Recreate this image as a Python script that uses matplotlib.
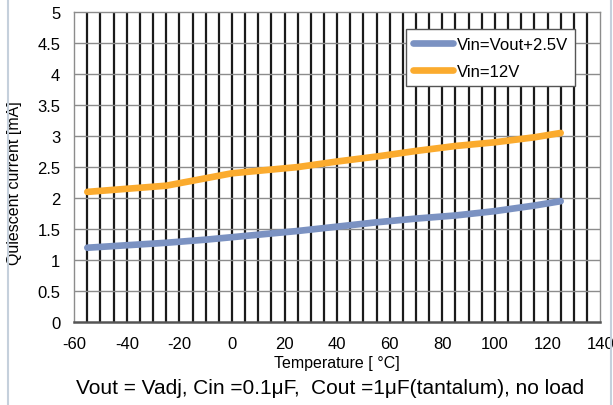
import matplotlib.pyplot as plt
import numpy as np

plt.rcParams['font.family'] = ['Liberation Sans', 'DejaVu Sans']
plt.rcParams['axes.unicode_minus'] = False

temps = [-55, -40, -25, -10, 0, 10, 25, 40, 55, 70, 85, 100, 115, 125]
iq_vout = [1.20, 1.24, 1.28, 1.33, 1.37, 1.41, 1.47, 1.54, 1.61, 1.67, 1.72, 1.79, 1.88, 1.95]
iq_12v = [2.10, 2.15, 2.20, 2.32, 2.40, 2.44, 2.50, 2.59, 2.67, 2.76, 2.84, 2.90, 2.98, 3.05]
labels = ['Vin=Vout+2.5V', 'Vin=12V']

fig = plt.figure(figsize=(6.13, 4.06), dpi=100)
ax = fig.add_axes([0.121, 0.204, 0.858, 0.764])

ax.set_xlim(-60, 140)
ax.set_ylim(0, 5)
ax.set_xticks(np.arange(-60, 141, 20))
ax.set_yticks(np.arange(0, 5.01, 0.5))
ax.set_yticklabels(['0', '0.5', '1', '1.5', '2', '2.5', '3', '3.5', '4', '4.5', '5'])

# dense black vertical grid, grey horizontal
for x in np.arange(-55, 140, 5):
    ax.axvline(x, color='#1a1a1a', lw=1.6, zorder=1)
for y in np.arange(0.5, 5, 0.5):
    ax.axhline(y, color='#8c8c8c', lw=1.0, zorder=1)

ax.plot(temps, iq_vout, color='#7b92c2', lw=4.8, solid_capstyle='round', label=labels[0], zorder=3)
ax.plot(temps, iq_12v, color='#fbab2e', lw=4.8, solid_capstyle='round', label=labels[1], zorder=3)

ax.tick_params(axis='y', which='both', length=0, labelsize=12, pad=10)
ax.tick_params(axis='x', which='both', length=0, labelsize=12, pad=10)
for s in ax.spines.values():
    s.set_color('#8c8c8c')
    s.set_linewidth(1.0)
ax.spines['bottom'].set_color('#555555')
ax.spines['bottom'].set_linewidth(1.8)

ax.set_xlabel('Temperature [ °C]', fontsize=11.5, labelpad=3)
ax.set_ylabel('Quiescent current [mA]', fontsize=11.5)
ax.yaxis.set_label_coords(-0.099, 0.45)

leg = ax.legend(loc='upper right', bbox_to_anchor=(0.953, 0.944), fontsize=12,
                frameon=True, fancybox=False, handlelength=2.4, handletextpad=0.2,
                borderpad=0.45, labelspacing=0.7, borderaxespad=0)
leg.get_frame().set_edgecolor('#555555')
leg.get_frame().set_linewidth(1.0)
leg.get_frame().set_alpha(1)

fig.text(0.538, 0.043, 'Vout = Vadj, Cin =0.1μF,  Cout =1μF(tantalum), no load',
         ha='center', va='center', fontsize=15)

# thin frame lines on the left and right of the figure
fig.add_artist(plt.Line2D([0.013, 0.013], [0, 1], color='#c5d0dc', lw=1.5, transform=fig.transFigure))
fig.add_artist(plt.Line2D([0.996, 0.996], [0, 1], color='#c5d0dc', lw=1.5, transform=fig.transFigure))

plt.savefig('out.png', dpi=100)
